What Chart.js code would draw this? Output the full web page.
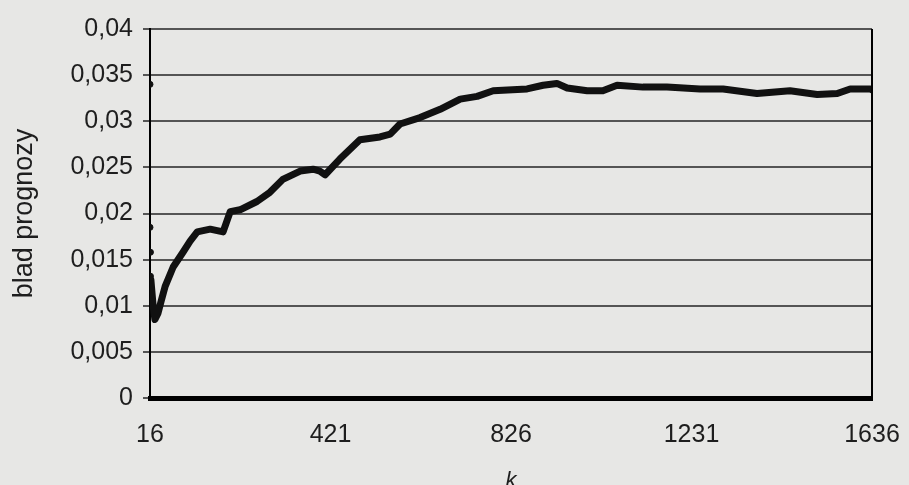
<!DOCTYPE html>
<html>
<head>
<meta charset="utf-8">
<script src="https://cdn.jsdelivr.net/npm/chart.js@4/dist/chart.umd.min.js"></script>
<style>
  html, body { margin: 0; padding: 0; background: #e7e7e5; }
  #wrap { width: 909px; height: 485px; position: relative; }
</style>
</head>
<body>
<div id="wrap"><canvas id="errChart"></canvas></div>
<script>
// k values and forecast error
const kValues = [18, 23, 27, 34, 41, 50, 68, 90, 106, 122, 151, 180, 196, 218, 256, 285, 314, 353, 382,
  397, 409, 442, 487, 532, 555, 577, 622, 667, 712, 750, 786, 862, 898, 929, 952, 997, 1032, 1064,
  1122, 1176, 1250, 1302, 1378, 1452, 1513, 1558, 1587, 1632, 1636];
const errValues = [0.0128, 0.0100, 0.0085, 0.0092, 0.0105, 0.0121, 0.0142, 0.0158, 0.0170, 0.0180,
  0.0183, 0.0180, 0.0202, 0.0204, 0.0213, 0.0223, 0.0237, 0.0246, 0.0248,
  0.0246, 0.0242, 0.0259, 0.0280, 0.0283, 0.0286, 0.0297, 0.0304, 0.0313, 0.0324, 0.0327, 0.0333,
  0.0335, 0.0339, 0.0341, 0.0336, 0.0333, 0.0333, 0.0339,
  0.0337, 0.0337, 0.0335, 0.0335, 0.0330, 0.0333, 0.0329, 0.0330, 0.0335, 0.0335, 0.0334];

// first few isolated points sitting on the left axis
const earlyK = [16, 16, 17, 17];
const earlyErr = [0.034, 0.0185, 0.0158, 0.0132];

const xTicks = [16, 421, 826, 1231, 1636];
const yTicks = [0, 0.005, 0.01, 0.015, 0.02, 0.025, 0.03, 0.035, 0.04];

const FONT = 'Liberation Sans, Arial, sans-serif';
const INK = '#1e1e1e';

// closes the plot frame on the right side
const rightFrame = {
    id: 'rightFrame',
    afterDatasetsDraw(chart) {
        const { ctx, chartArea } = chart;
        ctx.save();
        ctx.strokeStyle = '#000';
        ctx.lineWidth = 2;
        ctx.beginPath();
        ctx.moveTo(chartArea.right, chartArea.top);
        ctx.lineTo(chartArea.right, chartArea.bottom);
        ctx.stroke();
        ctx.restore();
    }
};

const ctx = document.getElementById('errChart').getContext('2d');

new Chart(ctx, {
    type: 'scatter',
    data: {
        datasets: [{
                label: 'blad prognozy',
                data: kValues.map((k, i) => ({ x: k, y: errValues[i] })),
                showLine: true,
                borderColor: '#111',
                borderWidth: 7,
                borderJoinStyle: 'round',
                borderCapStyle: 'round',
                pointRadius: 0,
                tension: 0
            },
            {
                label: 'start',
                data: earlyK.map((k, i) => ({ x: k, y: earlyErr[i] })),
                showLine: false,
                backgroundColor: '#111',
                borderColor: '#111',
                pointRadius: 3
            }
        ]
    },
    options: {
        responsive: true,
        maintainAspectRatio: false,
        animation: false,
        layout: {
            padding: { left: 0, right: 37, top: 29, bottom: 0 }
        },
        plugins: {
            legend: { display: false },
            tooltip: { enabled: false }
        },
        scales: {
            x: {
                type: 'linear',
                min: xTicks[0],
                max: xTicks[xTicks.length - 1],
                afterBuildTicks: s => { s.ticks = xTicks.map(v => ({ value: v })); },
                afterFit: s => { s.height = 87; },
                grid: {
                    drawOnChartArea: false,
                    drawTicks: true,
                    tickLength: 22,
                    tickColor: 'rgba(0,0,0,0)'
                },
                border: { color: '#000', width: 5 },
                ticks: {
                    color: INK,
                    padding: 0,
                    maxRotation: 0,
                    autoSkip: false,
                    font: { family: FONT, size: 25 },
                    callback: v => String(v)
                },
                title: {
                    display: true,
                    text: 'k',
                    color: INK,
                    padding: { top: 0, bottom: -9 },
                    font: { family: FONT, size: 22, style: 'italic' }
                }
            },
            y: {
                min: 0,
                max: 0.04,
                afterBuildTicks: s => { s.ticks = yTicks.map(v => ({ value: v })); },
                afterFit: s => { s.width = 150; },
                grid: {
                    color: '#555',
                    lineWidth: 2,
                    tickLength: 7
                },
                border: { color: '#000', width: 2 },
                ticks: {
                    color: INK,
                    padding: 10,
                    font: { family: FONT, size: 25 },
                    callback: v => String(+v.toFixed(3)).replace('.', ',')
                },
                title: {
                    display: true,
                    text: 'blad prognozy',
                    color: INK,
                    padding: { top: 8, bottom: 0 },
                    font: { family: FONT, size: 27 }
                }
            }
        }
    },
    plugins: [rightFrame]
});
</script>
</body>
</html>
